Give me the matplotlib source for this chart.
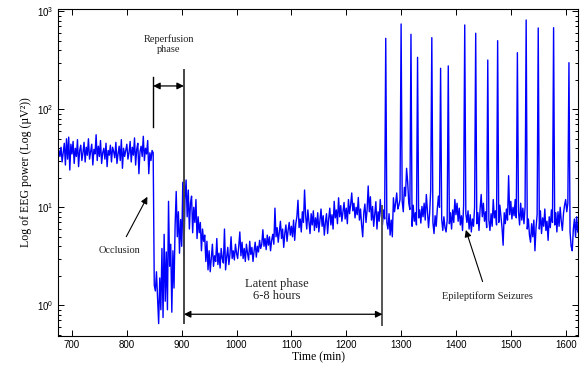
import numpy as np
import matplotlib
matplotlib.use('Agg')
import matplotlib.pyplot as plt
from matplotlib.ticker import LogLocator, FixedLocator, NullFormatter

#EEG power, one sample every 2 min starting at 676 min
t_start = 676
dt = 2

#baseline, before occlusion (676-846)
baseline = [38, 33, 41, 29, 36, 45, 27, 50, 31, 52,
            24, 44, 35, 47, 28, 40, 33, 49, 26, 38,
            43, 30, 36, 46, 29, 41, 34, 50, 31, 37,
            44, 27, 39, 35, 55, 30, 42, 33, 48, 28,
            36, 40, 31, 45, 26, 38, 34, 43, 29, 41,
            37, 32, 46, 28, 35, 42, 30, 49, 25, 40,
            33, 38, 44, 31, 36, 47, 29, 41, 34, 51,
            27, 39, 45, 22, 37, 42, 33, 53, 30, 40,
            35, 48, 22, 36, 30, 38]
#occlusion (848-902)
occlusion = [36, 1.6, 1.4, 2.2, 1.2, 0.65, 1.9, 0.9, 3.8, 0.75,
             5.3, 1.1, 3.5, 0.9, 11.5, 2.5, 4.2, 0.85, 3.6, 1.5,
             6.5, 14.5, 5.0, 9.0, 3.4, 7.5, 4.0, 18]
#reperfusion (904-1000)
reperfusion = [3.2, 12, 19, 8, 15, 6, 11, 13, 5.5, 10,
               7, 12, 4.8, 8, 5.5, 7, 3.6, 6, 4.5, 5.2,
               2.8, 4.5, 2.3, 3.6, 2.2, 3.0, 4.2, 2.5, 3.2, 2.8,
               4.8, 2.6, 3.4, 2.4, 3.8, 3.0, 2.7, 6.0, 2.3, 3.1,
               3.9, 2.6, 3.3, 5.0, 3.0, 3.6, 2.9, 4.2, 3.4]
#recovery (1002-1100)
recovery = [3.0, 4.0, 5.6, 3.2, 4.4, 3.0, 3.8, 2.8, 4.2, 3.4,
            2.9, 4.5, 3.3, 3.9, 2.8, 3.6, 4.4, 3.1, 4.0, 3.5,
            4.6, 3.8, 4.2, 5.9, 4.0, 4.8, 3.7, 5.2, 4.1, 5.0,
            3.6, 4.6, 5.3, 4.2, 9.8, 5.0, 6.2, 4.4, 5.6, 7.2,
            4.8, 6.0, 3.9, 5.4, 6.6, 4.5, 5.8, 7.0, 5.2, 6.4]
#late latent phase (1102-1270)
latent = [5.0, 7.4, 4.6, 6.8, 8.0, 11.8, 6.2, 7.6, 5.6, 9.0,
          7.0, 15, 8.2, 6.0, 9.4, 7.2, 5.4, 8.6, 6.6, 9.2,
          5.8, 7.8, 6.2, 8.8, 5.6, 7.4, 9.6, 6.4, 8.2, 5.2,
          7.0, 8.6, 5.4, 7.6, 9.8, 6.6, 8.4, 6.0, 11.5, 7.8,
          9.4, 6.8, 12.5, 8.0, 10.4, 7.2, 9.0, 11.2, 7.6, 9.8,
          6.8, 12.0, 8.6, 10.6, 14.0, 9.2, 11.0, 7.8, 10.0, 8.4,
          12.6, 7.4, 9.6, 6.6, 5.0, 8.8, 10.8, 7.0, 9.4, 16.5,
          9.0, 12.8, 7.4, 10.2, 6.4, 8.6, 11.4, 6.0, 9.0, 7.2,
          12.0, 8.2, 6.6, 9.4, 7.6]
#seizure period (1272-1622)
seizures = [530, 7.0, 6.0, 8.6, 5.2, 7.4, 5.0, 12.5, 9.0, 11.0,
            14.0, 9.6, 10.5, 12.0, 742, 11.5, 9.0, 16, 13, 25,
            18, 11, 9.5, 582, 6.4, 10.5, 7.2, 8.8, 6.6, 339,
            7.8, 9.4, 6.9, 10.2, 8.0, 11.0, 7.4, 13.5, 9.0, 6.2,
            8.6, 15, 538, 7.0, 5.4, 8.2, 6.4, 9.6, 13.0, 10.0,
            262, 7.6, 5.8, 8.0, 6.2, 5.6, 7.4, 277, 6.8, 8.8,
            6.0, 9.4, 7.0, 12.0, 8.4, 11.0, 7.2, 9.8, 6.6, 8.2,
            5.8, 10.5, 725, 8.6, 7.0, 9.2, 6.0, 8.4, 5.6, 7.6,
            6.4, 10.0, 597, 6.8, 8.8, 5.8, 9.6, 13.5, 8.0, 11.0,
            7.2, 9.0, 6.2, 318, 7.4, 5.8, 8.6, 6.4, 12.0, 7.8,
            9.2, 6.6, 501, 7.0, 10.5, 8.0, 6.2, 4.1, 8.8, 6.8,
            9.6, 7.4, 21, 8.4, 11.5, 7.6, 10.0, 8.2, 12.0, 7.8,
            378, 9.0, 6.6, 11.0, 7.4, 9.8, 6.8, 10.0, 815, 6.0,
            7.6, 5.2, 4.4, 6.8, 5.0, 7.4, 3.6, 6.2, 8.4, 676,
            6.0, 9.2, 5.4, 7.8, 6.4, 9.6, 5.8, 7.2, 4.6, 8.0,
            6.2, 9.4, 7.0, 680, 6.6, 8.8, 5.6, 9.0, 6.4, 10.0,
            7.2, 5.8, 8.6, 10.5, 12.0, 9.0, 11.0, 299, 5.6, 4.0,
            3.6, 6.0, 7.6, 5.0, 8.0, 5.6]

power = np.array(baseline + occlusion + reperfusion + recovery + latent + seizures)
time = t_start + dt*np.arange(len(power))

#event times (min)
t_occlusion = 848
t_reperfusion = 904
t_latent_end = 1266

plt.rcParams['font.family'] = ['Liberation Sans', 'DejaVu Sans']
plt.rcParams['mathtext.fontset'] = 'custom'
plt.rcParams['mathtext.rm'] = 'Liberation Sans'
plt.rcParams['mathtext.it'] = 'Liberation Sans:italic'
serif = ['Liberation Serif', 'DejaVu Serif']

fig = plt.figure(figsize=(5.81, 3.67), dpi=100)
ax = fig.add_axes([58/581, 31/367, 520/581, 327/367])

ax.plot(time, power, color='#0000ff', lw=1.0)

ax.set_yscale('log')
ax.set_xlim(674.5, 1622.5)
ax.set_ylim(0.486, 1055)
ax.xaxis.set_major_locator(FixedLocator(np.arange(700, 1601, 100)))
ax.yaxis.set_major_locator(LogLocator(base=10, numticks=10))
ax.yaxis.set_minor_locator(LogLocator(base=10, subs=np.arange(2, 10), numticks=10))
ax.yaxis.set_minor_formatter(NullFormatter())
ax.tick_params(which='both', direction='in', top=True, right=True, labelsize=7, width=0.7, pad=3)
ax.tick_params(which='major', length=4)
ax.tick_params(which='minor', length=2)
for s in ax.spines.values():
    s.set_linewidth(0.8)

ax.set_xlabel('Time (min)', family=serif, fontsize=8.5, labelpad=1)
ax.set_ylabel('Log of EEG power (Log (\u00b5V\u00b2))', family=serif, fontsize=8.5, labelpad=4)

#phase markers
ax.plot([t_occlusion, t_occlusion], [66, 215], color='k', lw=1.0)
ax.plot([t_reperfusion, t_reperfusion], [0.655, 252], color='#444444', lw=1.4)
ax.plot([t_latent_end, t_latent_end], [0.63, 10.2], color='#555555', lw=1.4)

ax.annotate('', xy=(t_occlusion, 173), xytext=(t_reperfusion, 173),
            arrowprops=dict(arrowstyle='<|-|>', color='k', lw=0.9, mutation_scale=10,
                            shrinkA=0, shrinkB=0))
ax.text(877, 464, 'Reperfusion\nphase', family=serif, fontsize=7.5, ha='center', va='center',
        linespacing=1.1, color='#222222')

ax.annotate('', xy=(t_reperfusion, 0.81), xytext=(t_latent_end, 0.81),
            arrowprops=dict(arrowstyle='<|-|>', color='k', lw=0.9, mutation_scale=10,
                            shrinkA=0, shrinkB=0))
ax.text(1074, 1.43, 'Latent phase\n6-8 hours', family=serif, fontsize=9, ha='center', va='center',
        linespacing=1.05, color='#222222')

ax.annotate('Occlusion', xy=(837.5, 12.8), xytext=(786, 3.66), family=serif, fontsize=7.5,
            ha='center', va='center', color='#222222',
            arrowprops=dict(arrowstyle='-|>', color='k', lw=0.8, mutation_scale=10,
                            shrinkA=5, shrinkB=0))
ax.annotate('Epileptiform Seizures', xy=(1418, 5.87), xytext=(1457, 1.25), family=serif, fontsize=7.5,
            ha='center', va='center', color='#222222',
            arrowprops=dict(arrowstyle='-|>', color='k', lw=0.8, mutation_scale=10,
                            shrinkA=5, shrinkB=0))

plt.savefig('out.png', dpi=100)
